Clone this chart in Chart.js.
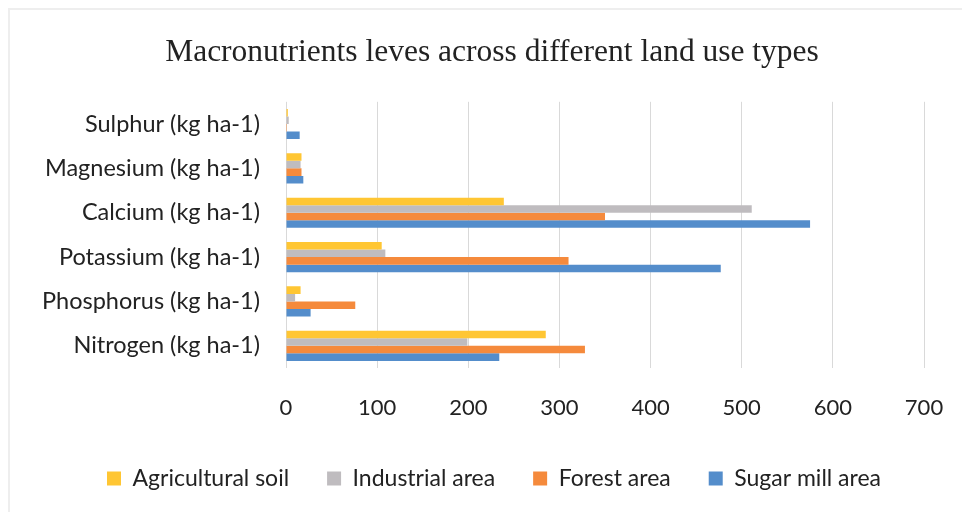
<!DOCTYPE html>
<html>
<head>
<meta charset="utf-8">
<script src="https://cdn.jsdelivr.net/npm/chart.js@4.4.1/dist/chart.umd.min.js"></script>
<style>
  html, body { margin: 0; padding: 0; background: #fff; }
  #wrap { position: relative; width: 962px; height: 512px; overflow: hidden; }
  #frame { position: absolute; left: 8px; top: 8px; width: 2000px; height: 2000px;
           border-top: 2px solid #eeeeee; border-left: 2px solid #eeeeee; }
  canvas { position: absolute; left: 0; top: 0; }
</style>
</head>
<body>
<div id="wrap">
  <div id="frame"></div>
  <canvas id="chart" width="962" height="512"></canvas>
</div>
<script>
// nutrient rows, top to bottom as in the picture
const nutrients = [
  'Sulphur (kg ha-1)',
  'Magnesium (kg ha-1)',
  'Calcium (kg ha-1)',
  'Potassium (kg ha-1)',
  'Phosphorus (kg ha-1)',
  'Nitrogen (kg ha-1)'
]
const agricultural = [2, 17, 239, 105, 16, 285]
const industrial = [3, 16, 511, 109, 10, 199]
const forest = [1, 17, 350, 310, 76, 328]
const sugarMill = [15, 19, 575, 477, 27, 234]
const xTicks = [0, 100, 200, 300, 400, 500, 600, 700]

const sans = 'Lato, "Open Sans", sans-serif'
const ink = '#222222'

// the title and legend sit a little right of the canvas centre in the original
const nudge = {
  id: 'nudge',
  afterLayout(chart) {
    const t = chart.titleBlock
    if (t) { t.left += 10; t.right += 10 }
    const l = chart.legend
    if (l) { l.left += 12; l.right += 12 }
  }
}

new Chart(document.getElementById('chart'), {
  type: 'bar',
  data: {
    labels: nutrients,
    datasets: [
      { label: 'Agricultural soil', data: agricultural, backgroundColor: '#ffc633' },
      { label: 'Industrial area', data: industrial, backgroundColor: '#bfbcbf' },
      { label: 'Forest area', data: forest, backgroundColor: '#f58a3c' },
      { label: 'Sugar mill area', data: sugarMill, backgroundColor: '#548dcb' }
    ]
  },
  plugins: [nudge],
  options: {
    indexAxis: 'y',
    responsive: false,
    animation: false,
    datasets: { bar: { barPercentage: 1, categoryPercentage: 0.68 } },
    layout: { padding: { left: 40, right: 38, top: 10, bottom: 12 } },
    plugins: {
      title: {
        display: true,
        text: 'Macronutrients leves across different land use types',
        color: ink,
        font: { family: '"Liberation Serif", "Times New Roman", serif', size: 31.5, weight: 'normal' },
        padding: { top: 24, bottom: 30 }
      },
      legend: {
        position: 'bottom',
        labels: {
          color: ink,
          font: { family: sans, size: 23 },
          boxWidth: 14,
          boxHeight: 14,
          padding: 38
        }
      },
      tooltip: { enabled: false }
    },
    scales: {
      x: {
        min: 0,
        max: 700,
        afterBuildTicks: (s) => { s.ticks = xTicks.map((v) => ({ value: v })) },
        afterFit: (s) => { s.height = 61; s.paddingLeft = 0; s.paddingRight = 0 },
        grid: { color: '#d9d9d9', lineWidth: 1, drawTicks: false },
        border: { display: false },
        ticks: { color: ink, font: { family: sans, size: 22 }, padding: 27 }
      },
      y: {
        afterFit: (s) => { s.width = 246 },
        grid: { display: false },
        border: { display: false },
        ticks: { color: ink, font: { family: sans, size: 23.5 }, padding: 18 }
      }
    }
  }
})
</script>
</body>
</html>
